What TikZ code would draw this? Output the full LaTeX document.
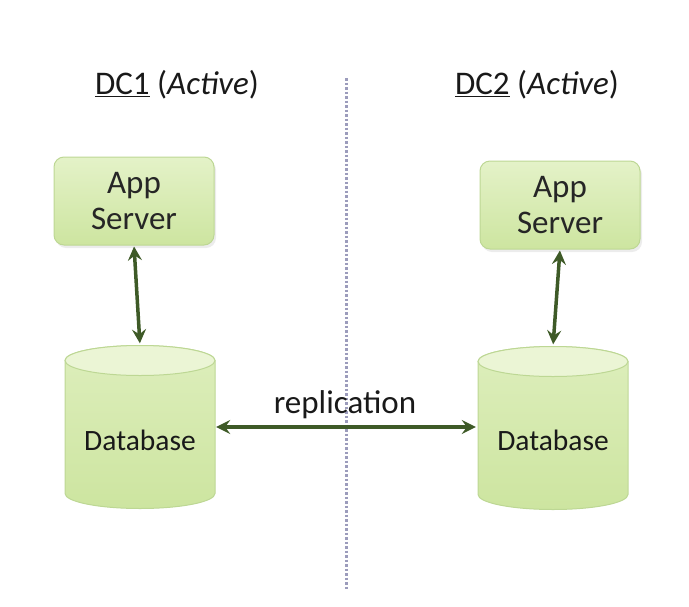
\documentclass[tikz,border=0pt]{standalone}
\usepackage{fontspec}
\setmainfont{Carlito}
\usetikzlibrary{arrows.meta,shadows,calc}
\definecolor{boxfillA}{HTML}{E4F2C8}
\definecolor{boxfillB}{HTML}{CDE5A0}
\definecolor{boxline}{HTML}{BDD794}
\definecolor{arrowgreen}{HTML}{3E5A27}
\definecolor{dotline}{HTML}{9C9CBC}
\definecolor{dbtop}{HTML}{EBF5D5}
\begin{document}
\begin{tikzpicture}[x=1pt,y=1pt,
  appbox/.style={draw=boxline, line width=1pt, rounded corners=10pt,
    top color=boxfillA, bottom color=boxfillB,
    minimum width=160pt, minimum height=88pt, align=center,
    font=\fontsize{33}{36}\selectfont, text=black!85,
    drop shadow={opacity=0.15,shadow xshift=2pt,shadow yshift=-3pt}},
  dbanchor/.style={minimum width=150pt, minimum height=163pt, inner sep=0pt},
  dbbody/.style={draw=boxline, line width=1pt, top color=boxfillA!70!boxfillB, bottom color=boxfillB},
  dbtopface/.style={draw=boxline, line width=1pt, fill=dbtop},
  dblabel/.style={font=\fontsize{29.5}{33}\selectfont, text=black!90},
  title/.style={font=\fontsize{33}{36}\selectfont, text=black!90},
  conn/.style={arrowgreen, line width=3.5pt,
    {Stealth[length=14pt,width=14pt,inset=5pt]}-{Stealth[length=14pt,width=14pt,inset=5pt]},
    shorten <=1pt, shorten >=2pt},
  divider/.style={dotline, line width=3pt, dash pattern=on 2.5pt off 2pt}]
\useasboundingbox (0,0) rectangle (689,-606);

% divider
\coordinate (divtop) at (346,-78);
\coordinate (divbot) at (346,-590);
\draw[divider] (divtop) -- (divbot);

% titles
\node[title] (t1) at (177,-85) {\underline{DC1} (\textit{Active})};
\node[title] (t2) at (537,-85) {\underline{DC2} (\textit{Active})};

% app servers
\node[appbox] (app1) at (134,-201) {App\\Server};
\node[appbox] (app2) at (560,-205) {App\\Server};

% databases
\node[dbanchor] (db1) at (140,-427) {};
\node[dbanchor] (db2) at (553,-428) {};
\foreach \d in {db1,db2}{
  \begin{scope}[shift={(\d.center)}]
    \path[dbbody] (-75,66.5) -- (-75,-66.5)
      arc[start angle=180,end angle=360,x radius=75,y radius=15]
      -- (75,66.5)
      arc[start angle=0,end angle=180,x radius=75,y radius=15] -- cycle;
    \path[dbtopface] (0,66.5) ellipse[x radius=75,y radius=15];
  \end{scope}
}
\node[dblabel] (db1t) at (140,-440) {Database};
\node[dblabel] (db2t) at (553,-440) {Database};

% connectors
\draw[conn] (app1.south) -- (db1.north);
\draw[conn] (app2.south) -- (db2.north);
\draw[conn] (db1.east) -- (db1.east -| db2.west);
\node[title] (repl) at (345,-405) {replication};
\end{tikzpicture}
\end{document}
